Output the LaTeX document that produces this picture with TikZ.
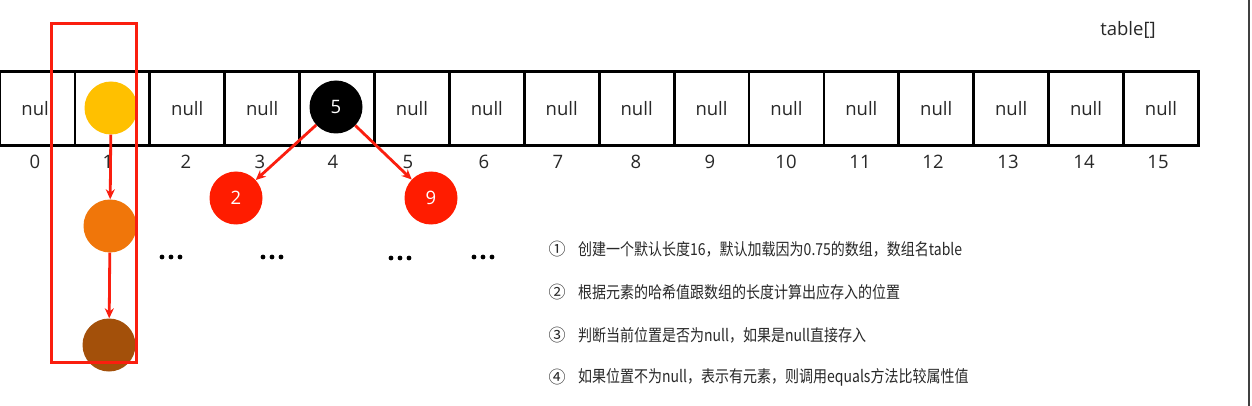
\documentclass[tikz,border=0pt]{standalone}
\usepackage{fontspec}
\setmainfont{Noto Sans CJK SC}
\newfontfamily\latinsans{Open Sans}
\usetikzlibrary{arrows.meta}
\definecolor{tabred}{RGB}{250,30,15}
\definecolor{ballyellow}{RGB}{255,192,0}
\definecolor{ballorange}{RGB}{240,118,10}
\definecolor{ballbrown}{RGB}{163,80,10}
\definecolor{ballred}{RGB}{255,28,0}
\definecolor{txtgray}{RGB}{40,40,40}
\tikzset{
  cell/.style={draw=black, line width=2.8pt, minimum width=74.9pt, minimum height=74pt, inner sep=0pt, font=\latinsans\fontsize{18.5}{18.5}\selectfont, text=txtgray},
  idx/.style={font=\latinsans\fontsize{18.5}{18.5}\selectfont, text=txtgray, inner sep=0pt},
  ball/.style={circle, minimum size=53pt, inner sep=0pt, text=white, font=\latinsans\fontsize{18.5}{18.5}\selectfont},
  redarrow/.style={draw=tabred, line width=2.8pt, -{Stealth[length=10pt,width=9pt]}},
  steptext/.style={font=\fontsize{14}{14}\selectfont, text=txtgray, anchor=west, inner sep=0pt},
  num/.style={font=\fontsize{17}{17}\selectfont, text=txtgray, inner sep=0pt}
}
\newcommand{\tallify}[1]{\scalebox{1}[1.18]{#1}}
\begin{document}
\begin{tikzpicture}[x=1pt,y=-1pt]
\useasboundingbox (0,0) rectangle (1252,406);
\fill[white] (0,0) rectangle (1252,406);
% right edge line
\draw[draw=black!75, line width=2.4pt] (1249,0) -- (1249,406);
% table cells
\foreach \i in {0,...,15}{
  \pgfmathsetmacro{\cx}{37.45+74.9*\i}
  \ifnum\i=1
    \node[cell] (c\i) at (\cx,108.5) {};
  \else\ifnum\i=4
    \node[cell] (c\i) at (\cx,108.5) {};
  \else
    \node[cell] (c\i) at (\cx,108.5) {null};
  \fi\fi
}
% indices
\foreach \i/\x in {0/35,1/108,2/186,3/260,4/333,5/408,6/484,7/558,8/636,9/710,10/786,11/860,12/933,13/1008,14/1084,15/1158}{
  \node[idx] (i\i) at (\x,162) {\i};
}
\node[font=\latinsans\fontsize{18.5}{18.5}\selectfont, text=txtgray, inner sep=0pt] (title) at (1128,30) {table[]};
% chain at index 1
\node[ball, fill=ballyellow] (y1) at (111,108) {};
\node[ball, fill=ballorange] (o1) at (110,226) {};
\node[ball, fill=ballbrown] (b1) at (109,345) {};
\draw[redarrow] (y1) -- (o1);
\draw[redarrow] (o1) -- (b1);
% tree at index 4
\node[ball, fill=black] (n5) at (336,107) {5};
\node[ball, fill=ballred] (n2) at (236,198) {2};
\node[ball, fill=ballred] (n9) at (431,198) {9};
\draw[redarrow] (n5) -- (n2);
\draw[redarrow] (n5) -- (n9);
% dots
\foreach \x/\y in {171/257,272/257,400/258,483/257}{
  \fill[black] (\x-9,\y) circle (2.4pt) (\x,\y) circle (2.4pt) (\x+9,\y) circle (2.4pt);
}
% red highlight rectangle
\node[draw=tabred, line width=3pt, minimum width=85pt, minimum height=338pt, inner sep=0pt] (hl) at (93.5,193) {};
% steps
\node[num] (m1) at (557,249) {①};
\node[num] (m2) at (557,292) {②};
\node[num] (m3) at (557,335) {③};
\node[num] (m4) at (557,377) {④};
\node[steptext] (s1) at (578,249) {\tallify{创建一个默认长度16，默认加载因为0.75的数组，数组名table}};
\node[steptext] (s2) at (578,292) {\tallify{根据元素的哈希值跟数组的长度计算出应存入的位置}};
\node[steptext] (s3) at (578,335) {\tallify{判断当前位置是否为null，如果是null直接存入}};
\node[steptext] (s4) at (578,377) {\tallify{如果位置不为null，表示有元素，则调用equals方法比较属性值}};
\end{tikzpicture}
\end{document}
